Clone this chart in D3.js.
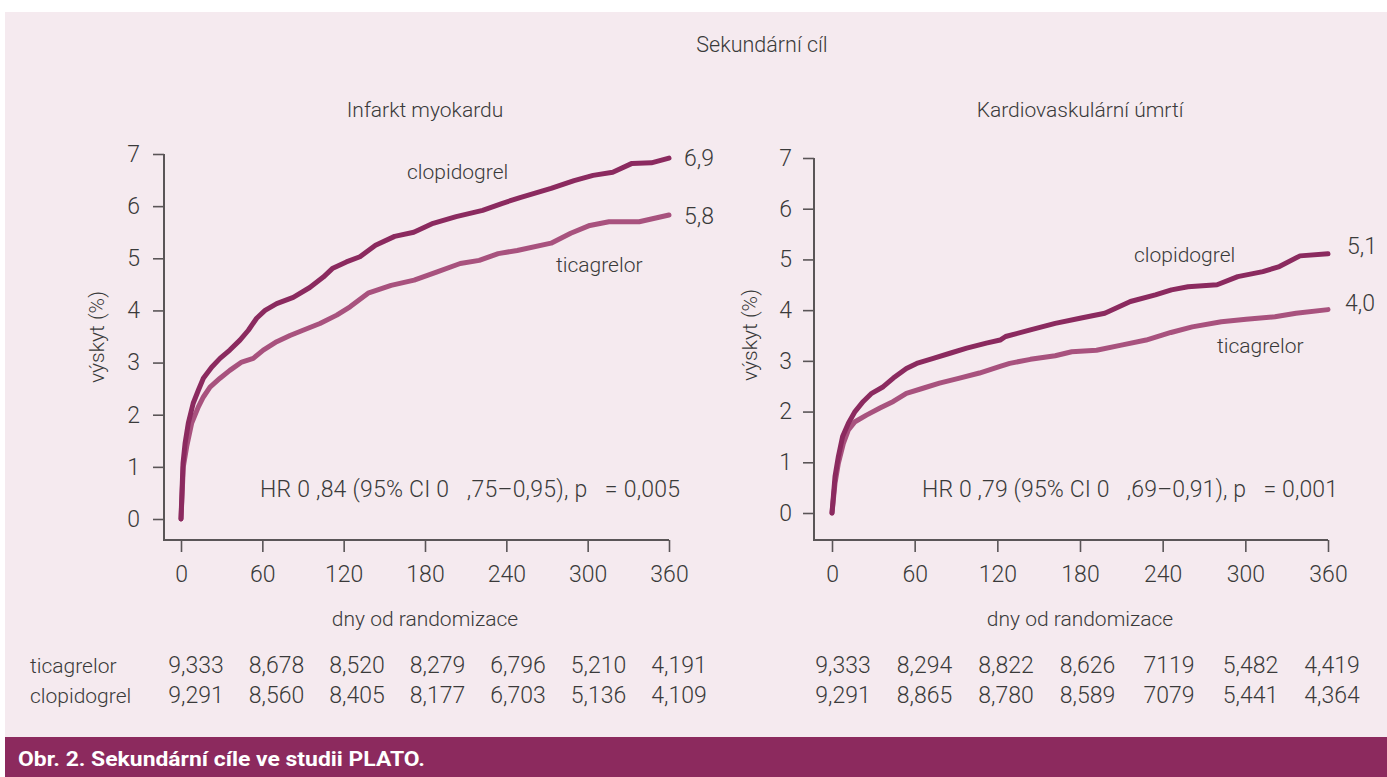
<!DOCTYPE html>
<html>
<head>
<meta charset="utf-8">
<script src="https://cdn.jsdelivr.net/npm/d3@7"></script>
<style>
  body { margin: 0; background: #fff; }
  svg text { font-family: Roboto, "Liberation Sans", sans-serif; font-weight: 300; fill: #3a3a3a; }
</style>
</head>
<body>
<div id="chart"></div>
<script>
// days / cumulative incidence (%)
var miClopDays = [0, 1.5, 3, 5.4, 9, 12.8, 16.5, 22.6, 28.8, 36, 43.5, 49.7, 55.8, 62, 70.6, 82.8, 95, 105, 112, 122, 132, 143.5, 157.6, 171.7, 186, 203, 222.5, 236.6, 250.7, 273, 290, 304, 318.5, 332.7, 347, 360],
  miClopVals = [0, 1.07, 1.45, 1.84, 2.22, 2.47, 2.70, 2.91, 3.08, 3.24, 3.43, 3.62, 3.85, 4.0, 4.13, 4.25, 4.44, 4.64, 4.81, 4.93, 5.03, 5.25, 5.42, 5.50, 5.67, 5.80, 5.92, 6.05, 6.17, 6.34, 6.49, 6.59, 6.65, 6.82, 6.83, 6.92];
var miTicaDays = [0, 1.7, 4.2, 7.9, 12.8, 16.5, 21.4, 28.8, 36, 44.8, 53.3, 60.7, 70.6, 80.4, 90, 102.5, 114.9, 124.7, 138, 155, 172, 189, 206, 220, 234, 248, 273, 287.5, 301.6, 315.7, 338, 360],
  miTicaVals = [0, 1.0, 1.39, 1.84, 2.15, 2.34, 2.53, 2.70, 2.85, 3.01, 3.08, 3.24, 3.40, 3.52, 3.62, 3.75, 3.91, 4.07, 4.33, 4.48, 4.58, 4.74, 4.90, 4.96, 5.09, 5.15, 5.29, 5.48, 5.63, 5.70, 5.70, 5.83];

var cvClopDays = [0, 2.2, 4.6, 7.7, 11.9, 16.7, 22.7, 28.8, 37.2, 44.5, 54, 61.5, 73.5, 85.6, 97.8, 112, 122, 126, 144, 162, 180, 198, 216.6, 234.7, 246.4, 258.4, 279.5, 294.5, 312.7, 324.7, 339.7, 360],
  cvClopVals = [0, 0.72, 1.11, 1.51, 1.77, 2.0, 2.20, 2.36, 2.49, 2.66, 2.85, 2.95, 3.05, 3.15, 3.25, 3.35, 3.41, 3.48, 3.61, 3.74, 3.84, 3.94, 4.17, 4.30, 4.40, 4.46, 4.50, 4.66, 4.76, 4.86, 5.07, 5.11];
var cvTicaDays = [0, 2.2, 4.6, 8.2, 11.9, 16.7, 25, 34.8, 44.5, 54, 66, 78, 92.6, 107, 122, 129, 144, 162, 174, 192, 210, 228, 246, 261.5, 282.6, 300.6, 321.5, 336.8, 360],
  cvTicaVals = [0, 0.59, 0.98, 1.37, 1.64, 1.80, 1.93, 2.07, 2.20, 2.36, 2.46, 2.56, 2.66, 2.76, 2.89, 2.95, 3.03, 3.10, 3.18, 3.21, 3.31, 3.41, 3.56, 3.67, 3.77, 3.82, 3.87, 3.94, 4.01];

var dayTicks = [0, 60, 120, 180, 240, 300, 360],
  pctTicks = [0, 1, 2, 3, 4, 5, 6, 7];

var miAtRiskTica = ["9,333", "8,678", "8,520", "8,279", "6,796", "5,210", "4,191"],
  miAtRiskClop = ["9,291", "8,560", "8,405", "8,177", "6,703", "5,136", "4,109"],
  cvAtRiskTica = ["9,333", "8,294", "8,822", "8,626", "7119", "5,482", "4,419"],
  cvAtRiskClop = ["9,291", "8,865", "8,780", "8,589", "7079", "5,441", "4,364"];

var clopColor = "#8b2a5f",
  ticaColor = "#a8527e",
  axisColor = "#5a5557";

var svg = d3.select("#chart")
  .append("svg")
  .attr("width", 1387)
  .attr("height", 777);

svg.append("rect")
  .attr("x", 5).attr("y", 12)
  .attr("width", 1382).attr("height", 725)
  .attr("fill", "#f5eaef");

svg.append("rect")
  .attr("x", 5).attr("y", 737)
  .attr("width", 1382).attr("height", 40)
  .attr("fill", "#8c2a5e");

svg.append("text")
  .attr("x", 18).attr("y", 766)
  .attr("textLength", 407)
  .attr("lengthAdjust", "spacingAndGlyphs")
  .style("font-weight", 700)
  .style("font-size", "21px")
  .style("fill", "#fff")
  .text("Obr. 2. Sekundární cíle ve studii PLATO.");

svg.append("text")
  .attr("x", 762).attr("y", 52)
  .attr("text-anchor", "middle")
  .style("font-size", "21.5px")
  .text("Sekundární cíl");

function drawPanel(p) {
  var xScale = d3.scaleLinear().domain([0, 360]).range([p.x0, p.x1]);
  var yScale = d3.scaleLinear().domain([0, 7]).range([p.y0, p.y7]);
  var g = svg.append("g");

  g.append("text")
    .attr("x", p.titleX).attr("y", 117)
    .attr("text-anchor", "middle")
    .style("font-size", "21px")
    .text(p.title);

  // axes
  var axis_y = d3.axisLeft(yScale).tickValues(pctTicks).tickFormat(d3.format("d"))
    .tickSize(11).tickPadding(p.yPad);
  var ay = g.append("g")
    .attr("transform", "translate(" + p.axisX + ",0)")
    .call(axis_y);

  var axis_x = d3.axisBottom(xScale).tickValues(dayTicks).tickSize(12).tickPadding(14);
  var ax = g.append("g")
    .attr("transform", "translate(0," + p.baseY + ")")
    .call(axis_x);

  [ay, ax].forEach(function(a) {
    a.select(".domain").remove();
    a.selectAll("line").attr("stroke", axisColor).attr("stroke-width", 1.6);
    a.selectAll("text").style("font-size", "23px").attr("fill", "#3a3a3a");
  });

  g.append("path")
    .attr("d", "M" + p.axisX + "," + yScale(7) + "V" + p.baseY + "H" + xScale(360))
    .attr("fill", "none")
    .attr("stroke", axisColor)
    .attr("stroke-width", 2);

  g.append("text")
    .attr("transform", "translate(" + p.labelX + "," + p.labelY + ") rotate(-90)")
    .attr("text-anchor", "middle")
    .style("font-size", "21px")
    .text("výskyt (%)");

  g.append("text")
    .attr("x", (xScale(0) + xScale(360)) / 2).attr("y", 626)
    .attr("text-anchor", "middle")
    .style("font-size", "21px")
    .text("dny od randomizace");

  // curves
  var line = d3.line()
    .x(function(d) { return xScale(d[0]); })
    .y(function(d) { return yScale(d[1]); });

  [[p.ticaDays, p.ticaVals, ticaColor], [p.clopDays, p.clopVals, clopColor]].forEach(function(s) {
    var pts = d3.zip(s[0], s[1]);
    g.append("path")
      .datum(pts)
      .attr("d", line)
      .attr("fill", "none")
      .attr("stroke", s[2])
      .attr("stroke-width", 5)
      .attr("stroke-linejoin", "round")
      .attr("stroke-linecap", "round");
  });

  // series names and end values
  p.texts.forEach(function(t) {
    g.append("text")
      .attr("x", t[0]).attr("y", t[1])
      .style("font-size", t[3] + "px")
      .text(t[2]);
  });

  // hazard ratio note
  g.append("text")
    .attr("x", p.hr[0]).attr("y", 497)
    .attr("textLength", p.hr[1])
    .attr("lengthAdjust", "spacing")
    .style("font-size", "23px")
    .style("white-space", "pre")
    .text(p.hr[2]);

  // numbers at risk
  [[p.riskTica, 673], [p.riskClop, 703]].forEach(function(r) {
    g.selectAll(null)
      .data(r[0])
      .enter()
      .append("text")
      .attr("x", function(d, i) { return p.colX0 + i * p.colDx; })
      .attr("y", r[1])
      .attr("text-anchor", "middle")
      .style("font-size", "23px")
      .text(function(d) { return d; });
  });
}

drawPanel({
  title: "Infarkt myokardu", titleX: 425,
  x0: 181, x1: 669, y0: 519, y7: 154, axisX: 164, baseY: 540, yPad: 13,
  labelX: 104, labelY: 337,
  clopDays: miClopDays, clopVals: miClopVals,
  ticaDays: miTicaDays, ticaVals: miTicaVals,
  riskTica: miAtRiskTica, riskClop: miAtRiskClop, colX0: 196, colDx: 80.5,
  hr: [260, 420, "HR 0 ,84 (95% CI 0   ,75–0,95), p   = 0,005"],
  texts: [
    [407, 179, "clopidogrel", 21],
    [556, 272, "ticagrelor", 21],
    [684, 166, "6,9", 23],
    [684, 224, "5,8", 23]
  ]
});

drawPanel({
  title: "Kardiovaskulární úmrtí", titleX: 1080,
  x0: 832, x1: 1328, y0: 513, y7: 158, axisX: 814, baseY: 540, yPad: 11,
  labelX: 757, labelY: 335,
  clopDays: cvClopDays, clopVals: cvClopVals,
  ticaDays: cvTicaDays, ticaVals: cvTicaVals,
  riskTica: cvAtRiskTica, riskClop: cvAtRiskClop, colX0: 843, colDx: 81.5,
  hr: [922, 416, "HR 0 ,79 (95% CI 0   ,69–0,91), p   = 0,001"],
  texts: [
    [1134, 262, "clopidogrel", 21],
    [1217, 353, "ticagrelor", 21],
    [1347, 254, "5,1", 23],
    [1345, 311, "4,0", 23]
  ]
});

// row labels of the at-risk table
svg.append("text").attr("x", 30).attr("y", 673).style("font-size", "21px").text("ticagrelor");
svg.append("text").attr("x", 30).attr("y", 703).style("font-size", "21px").text("clopidogrel");
</script>
</body>
</html>
